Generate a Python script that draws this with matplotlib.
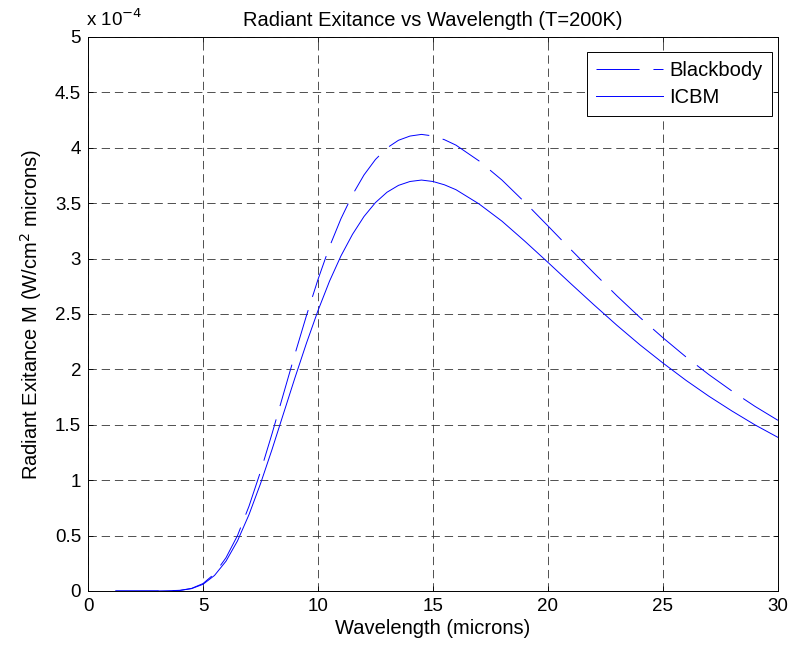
import matplotlib
matplotlib.use("Agg")
import matplotlib.pyplot as plt

plt.rcParams['font.family'] = ['Liberation Sans', 'DejaVu Sans']
plt.rcParams['font.size'] = 14
plt.rcParams['lines.scale_dashes'] = False

# wavelength (microns) and radiant exitance (x 1e-4 W/cm^2 micron)
wavelength = [1.2, 2, 3, 4, 4.5, 5, 5.5, 6, 6.5, 7, 7.5, 8, 8.5, 9, 9.5, 10,
              10.5, 11, 11.5, 12, 12.5, 13, 13.5, 14, 14.5, 15, 15.5, 16, 17,
              18, 19, 20, 21, 22, 23, 24, 25, 26, 27, 28, 29, 30]
blackbody = [0.0, 0.0, 0.0001, 0.0056, 0.023, 0.067, 0.155, 0.30, 0.50, 0.765,
             1.076, 1.418, 1.779, 2.139, 2.486, 2.811, 3.106, 3.360, 3.575,
             3.754, 3.894, 3.998, 4.067, 4.105, 4.12, 4.106, 4.072, 4.023,
             3.881, 3.708, 3.506, 3.294, 3.080, 2.869, 2.663, 2.468, 2.285,
             2.112, 1.952, 1.804, 1.666, 1.540]
icbm = [0.0, 0.0, 0.0001, 0.005, 0.021, 0.060, 0.140, 0.269, 0.452, 0.689,
        0.968, 1.276, 1.601, 1.925, 2.237, 2.530, 2.795, 3.024, 3.218,
        3.379, 3.505, 3.598, 3.660, 3.695, 3.708, 3.695, 3.665, 3.621,
        3.493, 3.337, 3.155, 2.965, 2.772, 2.582, 2.397, 2.221, 2.057,
        1.901, 1.757, 1.624, 1.499, 1.386]
ytick_labels = ['0', '0.5', '1', '1.5', '2', '2.5', '3', '3.5', '4', '4.5', '5']

fig = plt.figure(figsize=(7.93, 6.47), dpi=100)
ax = fig.add_axes([0.111, 0.0866, 0.870, 0.8564])

ax.plot(wavelength, blackbody, color='blue', lw=0.7, dashes=(31, 10), label='Blackbody')
ax.plot(wavelength, icbm, color='blue', lw=0.7, label='ICBM')

ax.set_xlim(0, 30)
ax.set_ylim(0, 5)
ax.set_xticks(range(0, 31, 5))
ax.set_yticks([i * 0.5 for i in range(11)])
ax.set_yticklabels(ytick_labels)
ax.tick_params(direction='in', length=3.6, width=0.6, top=True, right=True,
               labelsize=13.5, pad=5)
ax.grid(True, color='#333333', linestyle=(0, (6, 3.5)), linewidth=0.6)
for s in ax.spines.values():
    s.set_linewidth(0.7)

ax.text(-0.003, 1.012, r'x 10$^{-4}$', transform=ax.transAxes, fontsize=13.5, va='bottom')
ax.set_title('Radiant Exitance vs Wavelength (T=200K)', fontsize=14.5, pad=8)
ax.set_xlabel('Wavelength (microns)', fontsize=14.5, labelpad=3)
ax.set_ylabel('Radiant Exitance M (W/cm$^2$ microns)', fontsize=14.5, labelpad=8)

leg = ax.legend(loc='upper right', bbox_to_anchor=(0.9913, 0.9729), borderaxespad=0,
                fancybox=False, framealpha=1, edgecolor='black', fontsize=14.5,
                handlelength=3.3, handletextpad=0.35, borderpad=0.45, labelspacing=0.4)
leg.get_frame().set_linewidth(0.7)

fig.savefig('out.png', dpi=100)
